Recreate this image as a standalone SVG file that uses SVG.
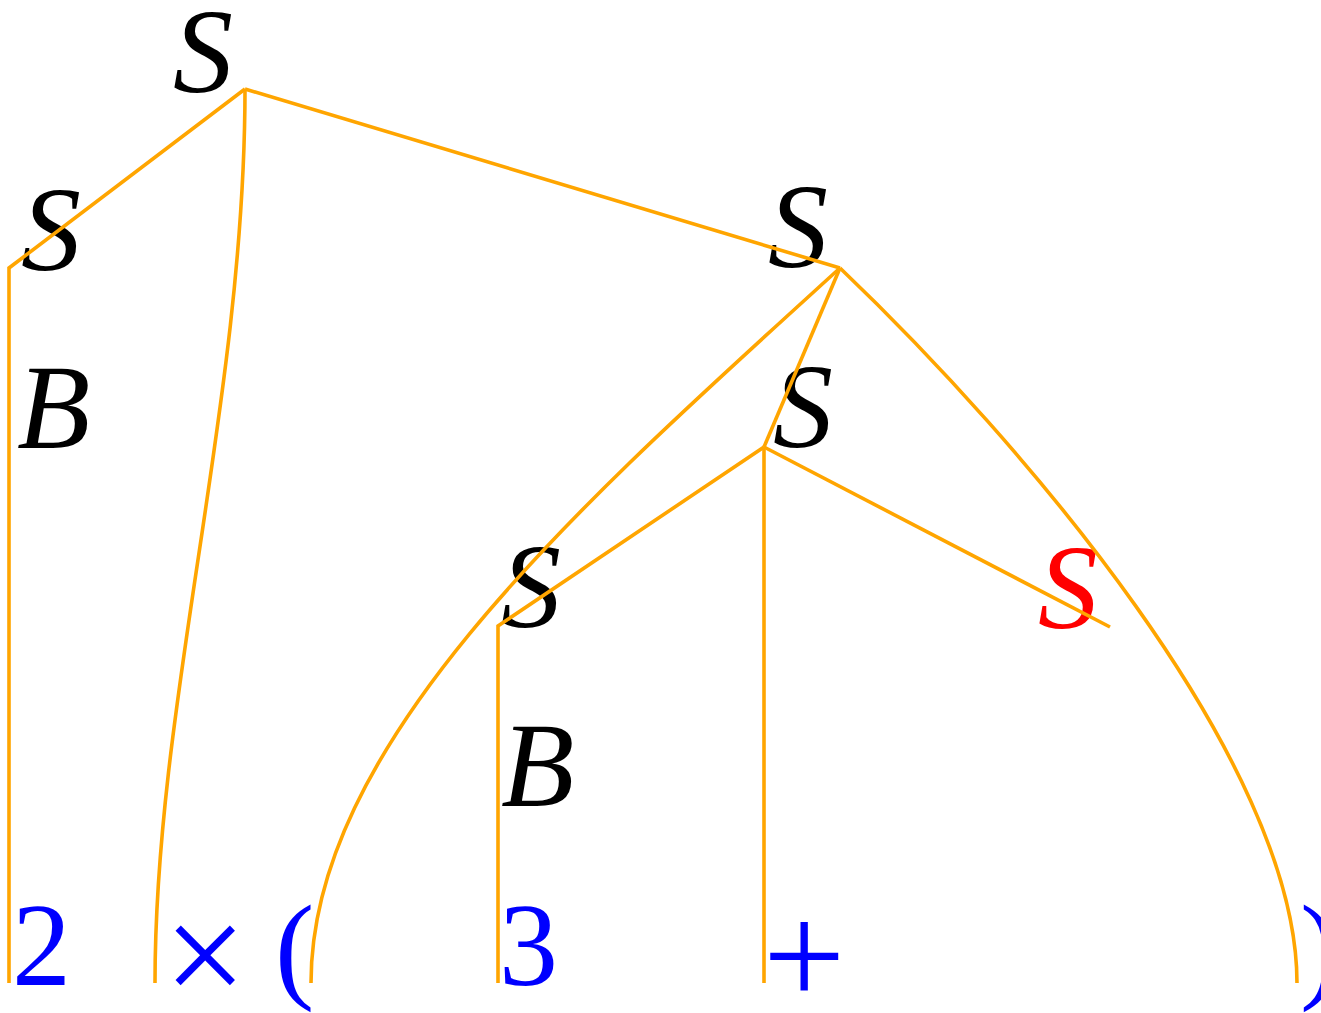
<svg xmlns="http://www.w3.org/2000/svg" width="1321" height="1013" viewBox="0 0 1321 1013">
<style>
.nt{font-family:"Liberation Serif","DejaVu Serif",serif;font-style:italic;font-size:120px;fill:#000}
.red{fill:#ff0000}
.t{font-family:"Liberation Serif","DejaVu Serif",serif;font-size:118px;fill:#0000ff}
.op{font-size:146px}
.e{fill:none;stroke:#ffa500;stroke-width:3.6;stroke-linejoin:miter}
</style>
<rect width="1321" height="1013" fill="#fff"/>
<g id="nodes">
<g id="n-root"><text class="nt" x="173" y="92">S</text></g>
<g id="n-s1"><text class="nt" x="21" y="270">S</text></g>
<g id="n-b1"><text class="nt" x="17" y="448">B</text></g>
<g id="n-s2"><text class="nt" x="768" y="267">S</text></g>
<g id="n-s3"><text class="nt" x="773" y="447">S</text></g>
<g id="n-s4"><text class="nt" x="501" y="627">S</text></g>
<g id="n-b2"><text class="nt" x="501" y="806">B</text></g>
<g id="n-s5"><text class="nt red" x="1038" y="628">S</text></g>
<g id="t-2"><text class="t" x="12" y="985">2</text></g>
<g id="t-times"><text class="t op" x="164" y="1004">×</text></g>
<g id="t-lp"><text class="t" x="275" y="987">(</text></g>
<g id="t-3"><text class="t" x="499" y="985">3</text></g>
<g id="t-plus"><text class="t op" x="763" y="1005">+</text></g>
<g id="t-rp"><text class="t" x="1300" y="987">)</text></g>
</g>
<g id="connectors">
<path class="e" d="M245,89 L9,268 L9,983"/>
<path class="e" d="M245,89 C245,400 155,700 155,983"/>
<path class="e" d="M245,89 L840,268"/>
<path class="e" d="M840,268 L764,447"/>
<path class="e" d="M840,268 C585,500 311,740 311,983"/>
<path class="e" d="M840,268 C1020,440 1297,760 1297,983"/>
<path class="e" d="M764,447 L498,626 L498,983"/>
<path class="e" d="M764,447 L764,983"/>
<path class="e" d="M764,447 L1110,627"/>
</g>
</svg>
